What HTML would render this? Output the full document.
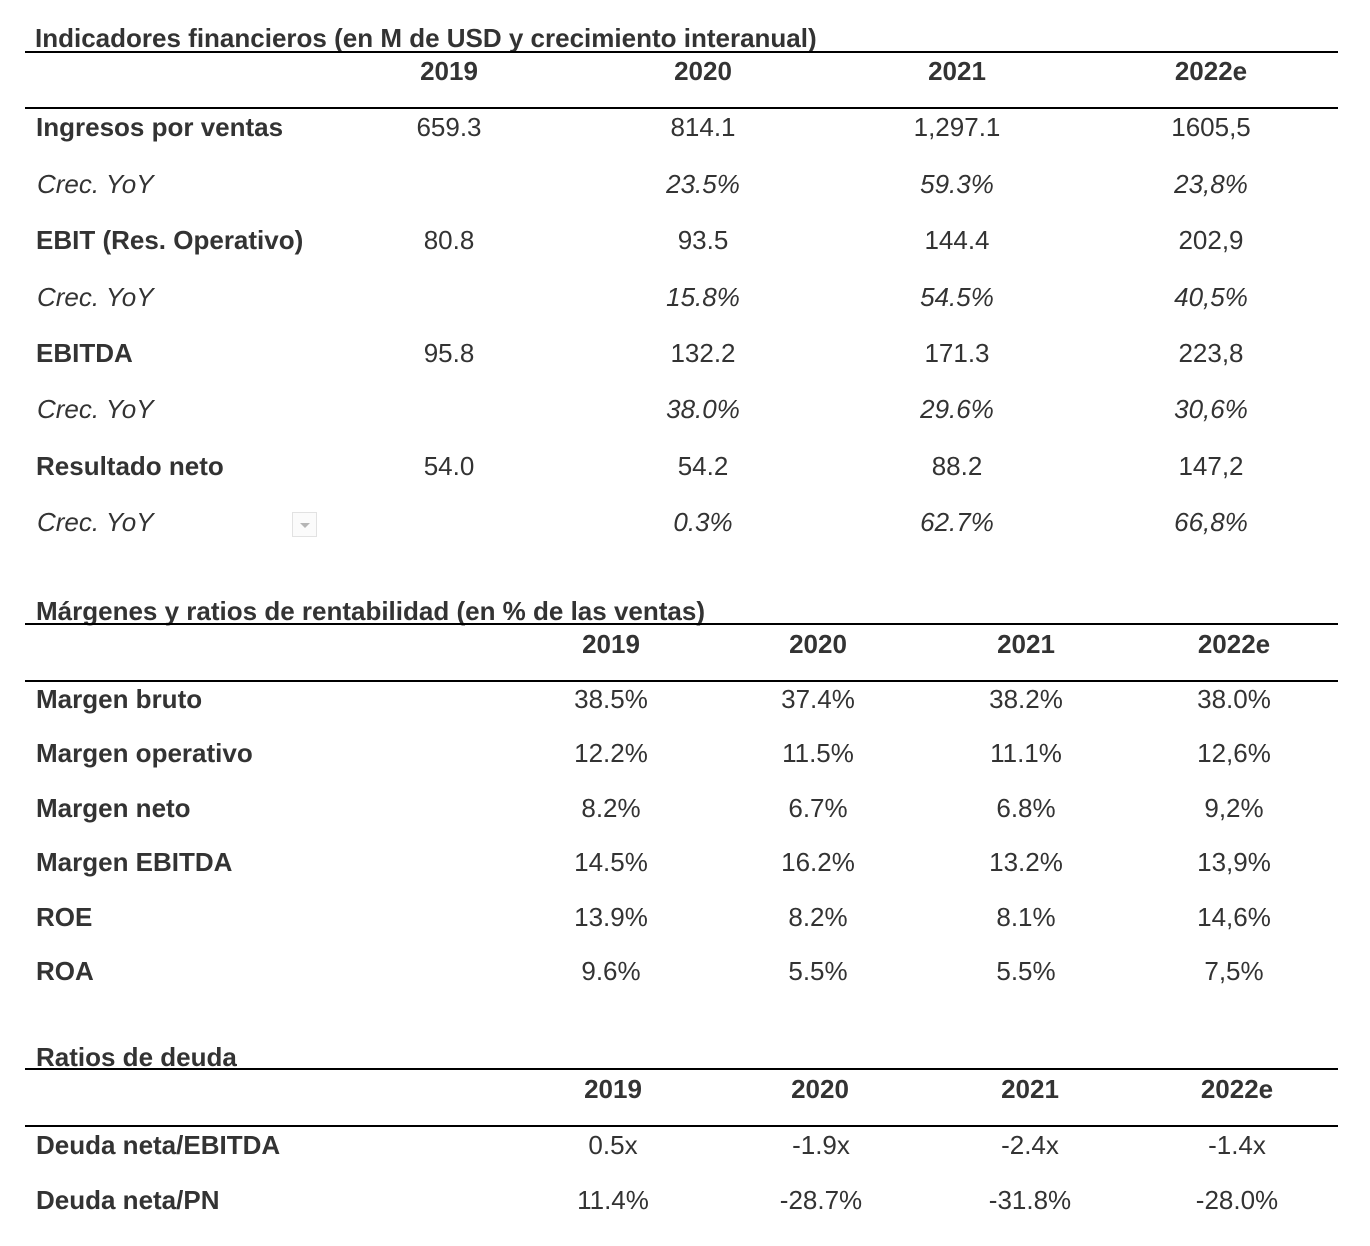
<!DOCTYPE html>
<html>
<head>
<meta charset="utf-8">
<style>
  html, body { margin:0; padding:0; background:#ffffff; }
  body { width:1370px; height:1246px; position:relative; overflow:hidden;
         font-family:"Liberation Sans", Arial, Helvetica, sans-serif; color:#333333; }
  .t { position:absolute; font-size:26px; line-height:30px; white-space:nowrap; }
  .b { font-weight:bold; }
  .i { font-style:italic; }
  .c { width:200px; text-align:center; }
  .line { position:absolute; left:25px; width:1313px; height:2px; background:#000; }
  .dd { position:absolute; left:292px; top:512px; width:23px; height:23px;
        border:1px solid #e2e2e2; background:#fbfbfb; box-sizing:content-box; }
  .dd:after { content:""; position:absolute; left:7px; top:10px; width:0; height:0;
        border-left:5px solid transparent; border-right:5px solid transparent;
        border-top:5px solid #b5b5b5; }
</style>
</head>
<body>

<!-- Table 1 -->
<div class="t b" style="left:35px;top:23px;">Indicadores financieros (en M de USD y crecimiento interanual)</div>
<div class="line" style="top:51px;"></div>
<div class="t b c" style="left:349px;top:56px;">2019</div>
<div class="t b c" style="left:603px;top:56px;">2020</div>
<div class="t b c" style="left:857px;top:56px;">2021</div>
<div class="t b c" style="left:1111px;top:56px;">2022e</div>
<div class="line" style="top:107px;"></div>

<div class="t b" style="left:36px;top:112px;">Ingresos por ventas</div>
<div class="t c" style="left:349px;top:112px;">659.3</div>
<div class="t c" style="left:603px;top:112px;">814.1</div>
<div class="t c" style="left:857px;top:112px;">1,297.1</div>
<div class="t c" style="left:1111px;top:112px;">1605,5</div>

<div class="t i" style="left:37px;top:169px;">Crec. YoY</div>
<div class="t i c" style="left:603px;top:169px;">23.5%</div>
<div class="t i c" style="left:857px;top:169px;">59.3%</div>
<div class="t i c" style="left:1111px;top:169px;">23,8%</div>

<div class="t b" style="left:36px;top:225px;">EBIT (Res. Operativo)</div>
<div class="t c" style="left:349px;top:225px;">80.8</div>
<div class="t c" style="left:603px;top:225px;">93.5</div>
<div class="t c" style="left:857px;top:225px;">144.4</div>
<div class="t c" style="left:1111px;top:225px;">202,9</div>

<div class="t i" style="left:37px;top:282px;">Crec. YoY</div>
<div class="t i c" style="left:603px;top:282px;">15.8%</div>
<div class="t i c" style="left:857px;top:282px;">54.5%</div>
<div class="t i c" style="left:1111px;top:282px;">40,5%</div>

<div class="t b" style="left:36px;top:338px;">EBITDA</div>
<div class="t c" style="left:349px;top:338px;">95.8</div>
<div class="t c" style="left:603px;top:338px;">132.2</div>
<div class="t c" style="left:857px;top:338px;">171.3</div>
<div class="t c" style="left:1111px;top:338px;">223,8</div>

<div class="t i" style="left:37px;top:394px;">Crec. YoY</div>
<div class="t i c" style="left:603px;top:394px;">38.0%</div>
<div class="t i c" style="left:857px;top:394px;">29.6%</div>
<div class="t i c" style="left:1111px;top:394px;">30,6%</div>

<div class="t b" style="left:36px;top:451px;">Resultado neto</div>
<div class="t c" style="left:349px;top:451px;">54.0</div>
<div class="t c" style="left:603px;top:451px;">54.2</div>
<div class="t c" style="left:857px;top:451px;">88.2</div>
<div class="t c" style="left:1111px;top:451px;">147,2</div>

<div class="t i" style="left:37px;top:507px;">Crec. YoY</div>
<div class="dd"></div>
<div class="t i c" style="left:603px;top:507px;">0.3%</div>
<div class="t i c" style="left:857px;top:507px;">62.7%</div>
<div class="t i c" style="left:1111px;top:507px;">66,8%</div>

<!-- Table 2 -->
<div class="t b" style="left:36px;top:596px;">Márgenes y ratios de rentabilidad (en % de las ventas)</div>
<div class="line" style="top:623px;"></div>
<div class="t b c" style="left:511px;top:629px;">2019</div>
<div class="t b c" style="left:718px;top:629px;">2020</div>
<div class="t b c" style="left:926px;top:629px;">2021</div>
<div class="t b c" style="left:1134px;top:629px;">2022e</div>
<div class="line" style="top:680px;"></div>

<div class="t b" style="left:36px;top:684px;">Margen bruto</div>
<div class="t c" style="left:511px;top:684px;">38.5%</div>
<div class="t c" style="left:718px;top:684px;">37.4%</div>
<div class="t c" style="left:926px;top:684px;">38.2%</div>
<div class="t c" style="left:1134px;top:684px;">38.0%</div>

<div class="t b" style="left:36px;top:738px;">Margen operativo</div>
<div class="t c" style="left:511px;top:738px;">12.2%</div>
<div class="t c" style="left:718px;top:738px;">11.5%</div>
<div class="t c" style="left:926px;top:738px;">11.1%</div>
<div class="t c" style="left:1134px;top:738px;">12,6%</div>

<div class="t b" style="left:36px;top:793px;">Margen neto</div>
<div class="t c" style="left:511px;top:793px;">8.2%</div>
<div class="t c" style="left:718px;top:793px;">6.7%</div>
<div class="t c" style="left:926px;top:793px;">6.8%</div>
<div class="t c" style="left:1134px;top:793px;">9,2%</div>

<div class="t b" style="left:36px;top:847px;">Margen EBITDA</div>
<div class="t c" style="left:511px;top:847px;">14.5%</div>
<div class="t c" style="left:718px;top:847px;">16.2%</div>
<div class="t c" style="left:926px;top:847px;">13.2%</div>
<div class="t c" style="left:1134px;top:847px;">13,9%</div>

<div class="t b" style="left:36px;top:902px;">ROE</div>
<div class="t c" style="left:511px;top:902px;">13.9%</div>
<div class="t c" style="left:718px;top:902px;">8.2%</div>
<div class="t c" style="left:926px;top:902px;">8.1%</div>
<div class="t c" style="left:1134px;top:902px;">14,6%</div>

<div class="t b" style="left:36px;top:956px;">ROA</div>
<div class="t c" style="left:511px;top:956px;">9.6%</div>
<div class="t c" style="left:718px;top:956px;">5.5%</div>
<div class="t c" style="left:926px;top:956px;">5.5%</div>
<div class="t c" style="left:1134px;top:956px;">7,5%</div>

<!-- Table 3 -->
<div class="t b" style="left:36px;top:1042px;">Ratios de deuda</div>
<div class="line" style="top:1068px;"></div>
<div class="t b c" style="left:513px;top:1074px;">2019</div>
<div class="t b c" style="left:720px;top:1074px;">2020</div>
<div class="t b c" style="left:930px;top:1074px;">2021</div>
<div class="t b c" style="left:1137px;top:1074px;">2022e</div>
<div class="line" style="top:1125px;"></div>

<div class="t b" style="left:36px;top:1130px;">Deuda neta/EBITDA</div>
<div class="t c" style="left:513px;top:1130px;">0.5x</div>
<div class="t c" style="left:721px;top:1130px;">-1.9x</div>
<div class="t c" style="left:930px;top:1130px;">-2.4x</div>
<div class="t c" style="left:1137px;top:1130px;">-1.4x</div>

<div class="t b" style="left:36px;top:1185px;">Deuda neta/PN</div>
<div class="t c" style="left:513px;top:1185px;">11.4%</div>
<div class="t c" style="left:721px;top:1185px;">-28.7%</div>
<div class="t c" style="left:930px;top:1185px;">-31.8%</div>
<div class="t c" style="left:1137px;top:1185px;">-28.0%</div>

</body>
</html>
